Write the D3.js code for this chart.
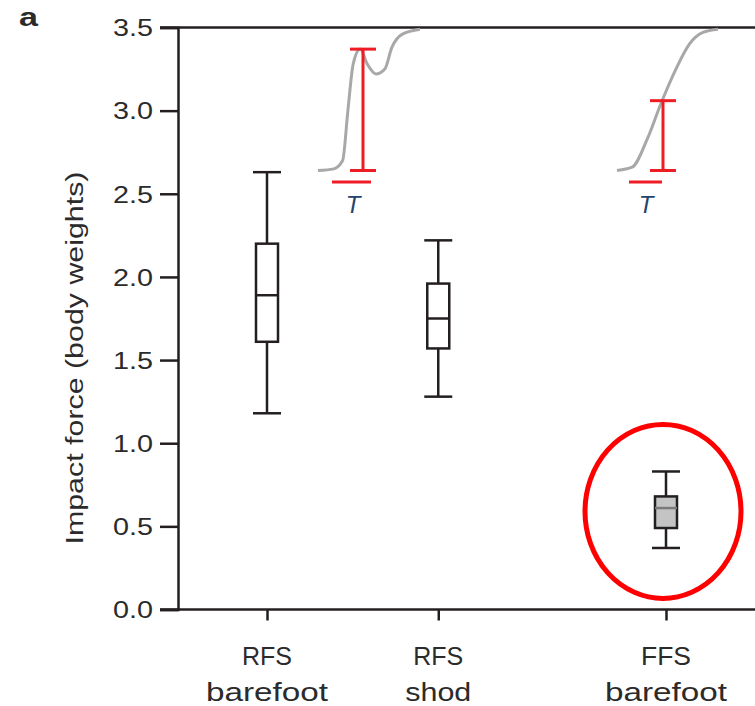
<!DOCTYPE html>
<html><head><meta charset="utf-8">
<script src="https://cdn.jsdelivr.net/npm/d3@7"></script>
<style>body{margin:0;background:#fff}svg{display:block}text{font-family:"Liberation Sans",Arial,sans-serif;fill:#2b2b2b}</style>
</head><body><svg id="c" width="755" height="706"></svg>
<script>
const categories = ["RFS|barefoot", "RFS|shod", "FFS|barefoot"];
const categoryPos = [0.53, 1.47, 2.72];
const whiskerLow = [1.18, 1.28, 0.37];
const boxLow = [1.61, 1.57, 0.49];
const medians = [1.89, 1.75, 0.61];
const boxHigh = [2.20, 1.96, 0.68];
const whiskerHigh = [2.63, 2.22, 0.83];
const boxFill = ["#ffffff", "#ffffff", "#c4c4c4"];
const yTicks = [0, 0.5, 1.0, 1.5, 2.0, 2.5, 3.0, 3.5];
// inset force-time traces (in y units, x in category units)
const inset1 = [[0.28,2.64],[0.37,2.65],[0.42,2.70],[0.45,3.00],[0.48,3.28],[0.52,3.37],[0.56,3.28],[0.61,3.22],[0.66,3.25],[0.70,3.38],[0.76,3.46],[0.86,3.49]];
const inset2 = [[2.37,2.64],[2.46,2.66],[2.55,2.83],[2.63,3.04],[2.72,3.25],[2.80,3.40],[2.88,3.47],[2.97,3.49]];
const impact1 = [0.53, 2.64, 3.37];
const impact2 = [2.72, 2.64, 3.06];

const svg = d3.select("#c");
const y = d3.scaleLinear().domain([0, 3.5]).range([609.5, 27.5]);
const xs = d3.scaleLinear().domain([0.53, 2.72]).range([267, 666]);

// frame top line
svg.append("line").attr("x1",160).attr("x2",755).attr("y1",y(3.5)).attr("y2",y(3.5)).attr("stroke","#231f20").attr("stroke-width",2.5);

// y axis
const yAxis = d3.axisLeft(y).tickValues(yTicks).tickFormat(d3.format(".1f")).tickSize(18).tickPadding(7);
const gy = svg.append("g").attr("transform","translate(178,0)").call(yAxis);
gy.select(".domain").attr("stroke","#231f20").attr("stroke-width",2.5);
gy.selectAll(".tick line").attr("stroke","#231f20").attr("stroke-width",2.5);
gy.selectAll(".tick text").attr("font-size",23).attr("fill","#2b2b2b")
  .attr("textLength",40).attr("lengthAdjust","spacingAndGlyphs").attr("dy","0.36em");

// x axis
const xAxis = d3.axisBottom(xs).tickValues(categoryPos).tickSize(11).tickFormat("");
const gx = svg.append("g").attr("transform",`translate(0,${y(0)})`).call(xAxis);
gx.select(".domain").attr("d","M160,0H755").attr("stroke","#231f20").attr("stroke-width",2.5);
gx.selectAll(".tick line").attr("stroke","#231f20").attr("stroke-width",2.5);
const labelLen = {"RFS":50, "FFS":50, "barefoot":122, "shod":66};
categories.forEach((c,i)=>{
  const parts = c.split("|");
  parts.forEach((p,j)=>{
    svg.append("text").attr("text-anchor","middle").attr("font-size",25)
      .attr("x",xs(categoryPos[i])).attr("y",665+j*36)
      .attr("textLength",labelLen[p]).attr("lengthAdjust","spacingAndGlyphs").text(p);
  });
});

// y label
svg.append("text").attr("transform","translate(83,358) rotate(-90)").attr("text-anchor","middle").attr("font-size",23)
  .attr("textLength",373).attr("lengthAdjust","spacingAndGlyphs").text("Impact force (body weights)");
svg.append("text").attr("x",19).attr("y",26).attr("font-size",26).attr("font-weight","bold")
  .attr("textLength",19).attr("lengthAdjust","spacingAndGlyphs").text("a");

// boxes
const bw = 22, cw = 28;
categories.forEach((c,i)=>{
  const cx = xs(categoryPos[i]);
  const g = svg.append("g").attr("stroke","#231f20").attr("stroke-width",2.5);
  g.append("line").attr("x1",cx).attr("x2",cx).attr("y1",y(whiskerLow[i])).attr("y2",y(boxLow[i]));
  g.append("line").attr("x1",cx).attr("x2",cx).attr("y1",y(boxHigh[i])).attr("y2",y(whiskerHigh[i]));
  g.append("line").attr("x1",cx-cw/2).attr("x2",cx+cw/2).attr("y1",y(whiskerLow[i])).attr("y2",y(whiskerLow[i]));
  g.append("line").attr("x1",cx-cw/2).attr("x2",cx+cw/2).attr("y1",y(whiskerHigh[i])).attr("y2",y(whiskerHigh[i]));
  g.append("rect").attr("x",cx-bw/2).attr("width",bw).attr("y",y(boxHigh[i])).attr("height",y(boxLow[i])-y(boxHigh[i])).attr("fill",boxFill[i]);
  g.append("line").attr("x1",cx-bw/2).attr("x2",cx+bw/2).attr("y1",y(medians[i])).attr("y2",y(medians[i])).attr("stroke", i===2 ? "#7a7a7a" : "#231f20");
});

// red ellipse
svg.append("ellipse").attr("cx",xs(categoryPos[2])-3).attr("cy",y(0.59)).attr("rx",78).attr("ry",87).attr("fill","none").attr("stroke","#ff0000").attr("stroke-width",5);

// insets
const ix = d3.scaleLinear().domain([0.28,0.86]).range([318,420]);
const ix2 = d3.scaleLinear().domain([2.37,2.97]).range([617,718]);
const line1 = d3.line().x(d=>ix(d[0])).y(d=>y(d[1])).curve(d3.curveMonotoneX);
const line2 = d3.line().x(d=>ix2(d[0])).y(d=>y(d[1])).curve(d3.curveMonotoneX);
svg.append("path").attr("d",line1(inset1)).attr("fill","none").attr("stroke","#a8a8a8").attr("stroke-width",3);
svg.append("path").attr("d",line2(inset2)).attr("fill","none").attr("stroke","#a8a8a8").attr("stroke-width",3);

function impactBar(px, lo, hi, barX1, barX2){
  const g = svg.append("g").attr("stroke","#ee1c25").attr("stroke-width",3);
  g.append("line").attr("x1",px).attr("x2",px).attr("y1",y(lo)).attr("y2",y(hi));
  g.append("line").attr("x1",px-13).attr("x2",px+13).attr("y1",y(lo)).attr("y2",y(lo));
  g.append("line").attr("x1",px-13).attr("x2",px+13).attr("y1",y(hi)).attr("y2",y(hi));
  g.append("line").attr("x1",barX1).attr("x2",barX2).attr("y1",182).attr("y2",182);
}
impactBar(363, impact1[1], impact1[2], 332, 371);
impactBar(663, impact2[1], impact2[2], 629, 662);
svg.append("text").attr("x",353).attr("y",213).attr("font-size",24).attr("font-style","italic").attr("text-anchor","middle").style("fill","#24446e").text("T");
svg.append("text").attr("x",646).attr("y",213).attr("font-size",24).attr("font-style","italic").attr("text-anchor","middle").style("fill","#24446e").text("T");
</script></body></html>
